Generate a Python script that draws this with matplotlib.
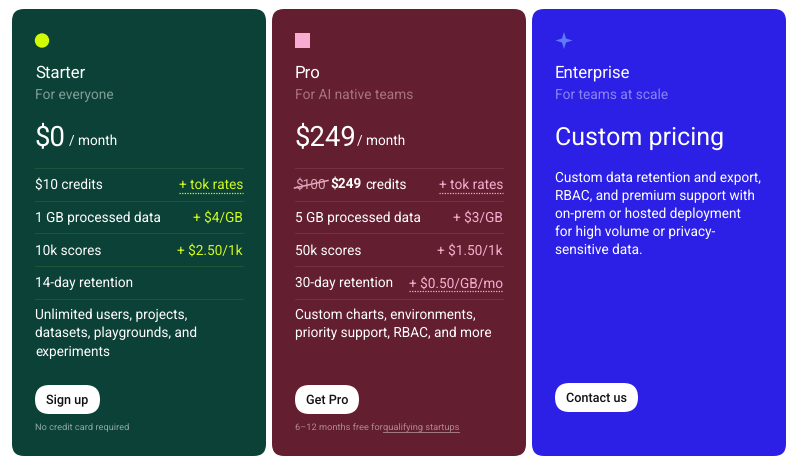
from matplotlib import pyplot as plt
from matplotlib.patches import Circle, FancyBboxPatch, Polygon, Rectangle

plt.rcParams['font.family'] = ['Roboto', 'DejaVu Sans']
plt.rcParams['text.hinting'] = 'no_hinting'

plan_names = ['Starter', 'Pro', 'Enterprise']
plan_subtitles = ['For everyone', 'For AI native teams', 'For teams at scale']
plan_prices = ['$0', '$249', 'Custom pricing']
starter_rows = ['$10 credits', '1 GB processed data', '10k scores', '14-day retention']
starter_rates = ['+ tok rates', '+ $4/GB', '+ $2.50/1k', '']
pro_rows = ['$249 credits', '5 GB processed data', '50k scores', '30-day retention']
pro_rates = ['+ tok rates', '+ $3/GB', '+ $1.50/1k', '+ $0.50/GB/mo']
starter_extra = ['Unlimited users, projects,', 'datasets, playgrounds, and', 'experiments']
pro_extra = ['Custom charts, environments,', 'priority support, RBAC, and more']
enterprise_text = ['Custom data retention and export,', 'RBAC, and premium support with',
                   'on-prem or hosted deployment', 'for high volume or privacy-',
                   'sensitive data.']
buttons = ['Sign up', 'Get Pro', 'Contact us']

card_colors = ['#0b4137', '#631e30', '#2c20e6']
sub_colors = ['#7f9e96', '#a9747f', '#8b84f5']
rule_colors = ['#1d5539', '#753245']
rate_colors = ['#d2fb1e', '#f5b0cf']
PX = 0.72
BODY = 13.6


def txt(ax, x, y, s, px=BODY, color='white', ha='left', weight='normal'):
    return ax.text(x, y, s, fontsize=px * PX, color=color, ha=ha, va='baseline',
                   fontweight=weight)


def card(ax, x, color):
    ax.add_patch(FancyBboxPatch((x + 24, 21), 230, 423, boxstyle='round,pad=12,rounding_size=12',
                                fc=color, ec='none'))


def button(ax, x, y, w, label):
    ax.add_patch(FancyBboxPatch((x, y), w, 29, boxstyle='round,pad=0,rounding_size=14.5',
                                fc='white', ec='white', lw=0))
    txt(ax, x + w / 2, y + 19.3, label, 12.6, '#111111', ha='center', weight='medium')


def dotted(ax, x0, x1, y, color):
    ax.plot([x0, x1], [y, y], color=color, lw=0.9, ls=(0, (1, 1.1)), solid_capstyle='butt')


def plan_rows(ax, x, rows, rates, rule, rate_color, dotted_rows):
    for i in range(len(rows) + 1):
        ax.plot([x, x + 208], [168 + 32.7 * i] * 2, color=rule, lw=0.8)
    for i, (row, rate) in enumerate(zip(rows, rates)):
        y = 189 + 32.7 * i
        if row:
            txt(ax, x, y, row)
        if rate:
            t = txt(ax, x + 208, y, rate, BODY, rate_color, ha='right')
            if i in dotted_rows:
                box = t.get_window_extent()
                dotted(ax, box.x0, box.x1, y + 3.5, rate_color)


def main():
    fig = plt.figure(figsize=(8, 4.68), dpi=100)
    ax = fig.add_axes([0, 0, 1, 1])
    ax.set_xlim(0, 800)
    ax.set_ylim(468, 0)
    ax.axis('off')

    for x, color, name in zip([0, 260, 520], card_colors, plan_names):
        card(ax, x, color)
        txt(ax, x + 35, 78, name, 16.7)
    for x, sub, color in zip([35, 295, 555], plan_subtitles, sub_colors):
        txt(ax, x, 99, sub, 13.8, color)

    # plan icons
    ax.add_patch(Circle((42, 40.5), 7.2, fc='#d2fb06', ec='none'))
    ax.add_patch(Rectangle((295, 33), 14.5, 15, fc='#f8acd2', ec='none'))
    ax.add_patch(Polygon([(564, 32), (566, 38.5), (572.5, 40.5), (566, 42.5), (564, 49),
                          (562, 42.5), (555.5, 40.5), (562, 38.5)], fc='#5d7bf7', ec='none'))

    # prices
    txt(ax, 34.5, 145, plan_prices[0], 27.5)
    txt(ax, 69, 145, '/ month', BODY)
    txt(ax, 294.5, 145, plan_prices[1], 27.5)
    txt(ax, 357, 145, '/ month', BODY)
    txt(ax, 555, 145, plan_prices[2], 25)

    plan_rows(ax, 35, starter_rows, starter_rates, rule_colors[0], rate_colors[0], [0])
    plan_rows(ax, 295, ['', pro_rows[1], pro_rows[2], pro_rows[3]], pro_rates, rule_colors[1],
              rate_colors[1], [0, 3])

    # struck through credit line on the pro card
    txt(ax, 295, 189, '$100', BODY, '#d9a3b4')
    ax.plot([294.5, 328], [188, 180.5], color='#e9a9c4', lw=1.1)
    txt(ax, 330, 189, '$249', BODY, weight='bold')
    txt(ax, 365, 189, 'credits', BODY)

    for i, line in enumerate(starter_extra):
        txt(ax, 35, 319 + 18 * i, line)
    for i, line in enumerate(pro_extra):
        txt(ax, 295, 319 + 18 * i, line)
    for i, line in enumerate(enterprise_text):
        txt(ax, 555, 182 + 18 * i, line)

    button(ax, 35, 385, 65, buttons[0])
    button(ax, 295, 385, 64, buttons[1])
    button(ax, 555, 383, 83, buttons[2])

    txt(ax, 35, 430, 'No credit card required', 9.3, '#8fa9a2')
    txt(ax, 295, 430, '6\u201312 months free for', 9.3, '#b08a94')
    t = txt(ax, 383, 430, 'qualifying startups', 9.3, '#b08a94')
    box = t.get_window_extent()
    ax.plot([box.x0, box.x1], [431.5, 431.5], color='#b08a94', lw=0.6)

    fig.savefig('out.png', dpi=100)


if __name__ == '__main__':
    main()
